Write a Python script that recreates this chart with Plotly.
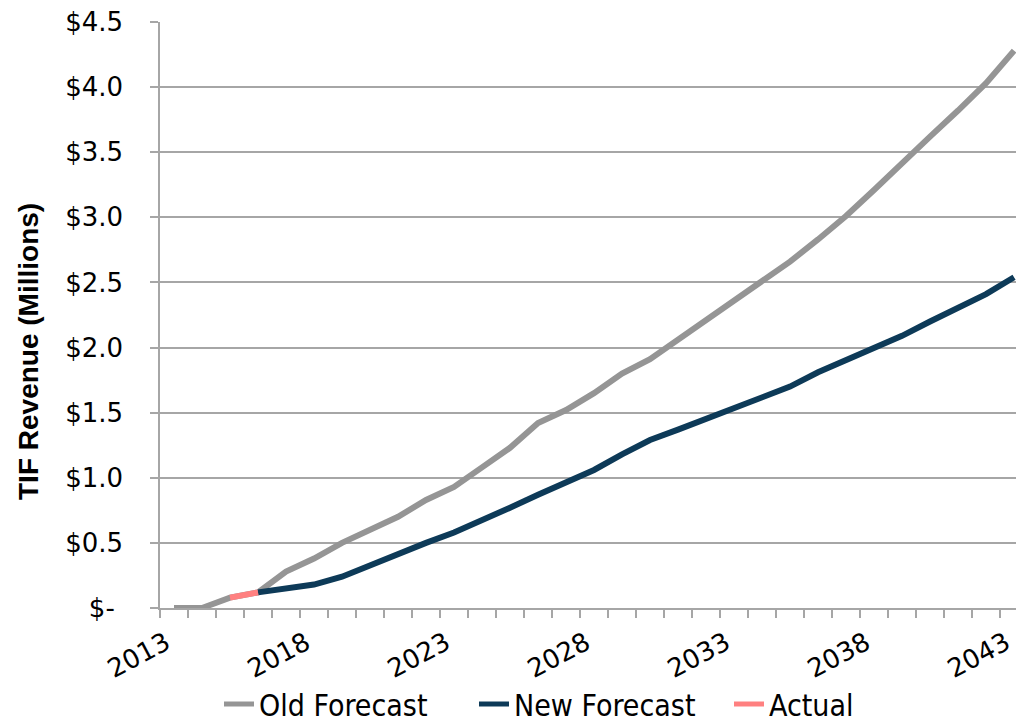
import plotly.graph_objects as go

years = list(range(2013, 2044))

old_forecast = [0.0, 0.0, 0.08, 0.12, 0.28, 0.38, 0.50, 0.60, 0.70, 0.83, 0.93, 1.08, 1.23, 1.42,
                1.52, 1.65, 1.80, 1.91, 2.06, 2.21, 2.37, 2.52, 2.66, 2.83, 3.01, 3.21, 3.42,
                3.62, 3.82, 4.03, 4.28]

new_years = list(range(2016, 2044))
new_forecast = [0.12, 0.15, 0.18, 0.24, 0.33, 0.42, 0.50, 0.58, 0.67, 0.77, 0.87, 0.96, 1.06,
                1.18, 1.29, 1.37, 1.45, 1.53, 1.61, 1.70, 1.81, 1.90, 2.00, 2.09, 2.20, 2.31,
                2.41, 2.54]

actual_years = [2015, 2016]
actual = [0.08, 0.12]

y_tickvals = [0, 0.5, 1.0, 1.5, 2.0, 2.5, 3.0, 3.5, 4.0, 4.5]
y_ticktext = ["$-\u00a0", "$0.5", "$1.0", "$1.5", "$2.0", "$2.5", "$3.0", "$3.5", "$4.0", "$4.5"]
x_tickvals = [2013, 2018, 2023, 2028, 2033, 2038, 2043]

fig = go.Figure()
fig.add_trace(go.Scatter(x=years, y=old_forecast, mode="lines", name="Old Forecast",
                         line=dict(color="#959595", width=6)))
fig.add_trace(go.Scatter(x=new_years, y=new_forecast, mode="lines", name="New Forecast",
                         line=dict(color="#0d3a58", width=6)))
fig.add_trace(go.Scatter(x=actual_years, y=actual, mode="lines", name="Actual",
                         line=dict(color="#ff8080", width=6)))

fig.update_layout(
    width=1016, height=725,
    margin=dict(l=160, r=0, t=22, b=117, autoexpand=False),
    plot_bgcolor="white", paper_bgcolor="white",
    showlegend=True,
    legend=dict(orientation="h", x=(219 - 160) / 856, xanchor="left",
                y=(725 - 704) / 725, yanchor="middle",
                yref="container", entrywidth=210, entrywidthmode="pixels",
                font=dict(family="DejaVu Sans Condensed", size=30, color="black"),
                itemwidth=30, tracegroupgap=0, itemsizing="constant"),
    font=dict(family="DejaVu Sans", color="black"),
    annotations=[dict(text="<b>TIF Revenue (Millions)</b>", textangle=-90,
                      xref="paper", yref="paper", x=(29 - 160) / 856, y=(608 - 352) / 586,
                      xanchor="center", yanchor="middle", showarrow=False,
                      font=dict(family="Liberation Sans", size=28, color="black"))],
)

fig.update_xaxes(
    range=[2012.5, 2043.07], automargin=False,
    tickmode="array", tickvals=x_tickvals, ticktext=[str(v) for v in x_tickvals],
    tickangle=-28, ticks="", showgrid=False, ticklabeloverflow="allow",
    ticklabelstandoff=8, ticklabelshift=-8,
    tickfont=dict(family="DejaVu Sans", size=26, color="black"),
    showline=True, linecolor="#a6a6a6", linewidth=1.5,
    minor=dict(ticks="outside", tick0=2012.5, dtick=1, ticklen=8, tickcolor="#a6a6a6",
               tickwidth=1.5, showgrid=False),
    zeroline=False,
)

fig.update_yaxes(
    range=[0, 4.5], automargin=False,
    tickmode="array", tickvals=y_tickvals, ticktext=y_ticktext,
    tickfont=dict(family="DejaVu Sans", size=26, color="black"),
    ticks="outside", ticklen=8, tickcolor="#a6a6a6", tickwidth=1.5,
    ticklabelstandoff=22,
    showgrid=True, gridcolor="#a6a6a6", gridwidth=1.5,
    showline=True, linecolor="#a6a6a6", linewidth=1.5,
    zeroline=False,
)

fig.write_html("out.html")
